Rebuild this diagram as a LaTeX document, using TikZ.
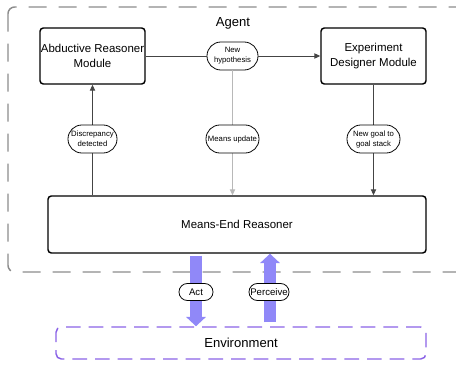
\documentclass[tikz,border=0pt]{standalone}
\usepackage{fontspec}
\setmainfont{Liberation Sans}
\usetikzlibrary{arrows.meta}

\definecolor{framegray}{HTML}{8C8C8C}
\definecolor{linegray}{HTML}{444444}
\definecolor{updgray}{HTML}{B8B8B8}
\definecolor{fatfill}{HTML}{9088F8}
\definecolor{fatedge}{HTML}{7A6CF0}
\definecolor{envpurple}{HTML}{8A62E6}

\begin{document}
\begin{tikzpicture}[x=0.75pt,y=-0.75pt,
    module/.style={draw=black,line width=1.1pt,rounded corners=2.5pt,align=center,
        font=\fontsize{8.6}{11}\selectfont,inner sep=0pt},
    pill/.style={draw=black,line width=0.6pt,rounded corners=10.4pt,fill=white,align=center,
        font=\fontsize{5.8}{7.5}\selectfont,inner sep=0pt,minimum height=21pt},
    iopill/.style={draw=black,line width=0.6pt,rounded corners=6.3pt,fill=white,
        font=\fontsize{7.2}{8}\selectfont,inner sep=0pt,minimum height=12.75pt},
    link/.style={draw=linegray,line width=0.75pt,-{Triangle[length=4.5pt,width=4pt]}},
    plain/.style={draw=linegray,line width=0.75pt},
    fatarrow/.style={draw=fatedge,line width=9pt,fatfill,
        -{Triangle[length=7pt,width=14.5pt]}},
]
    \useasboundingbox (0,0) rectangle (456,364);
    \clip (0,0) rectangle (456,364);

    % agent frame
    \draw[framegray,line width=1.1pt,rounded corners=5pt,dash pattern=on 13.5pt off 9pt]
        (8,7) rectangle (475,272);
    \node (agent) at (233,23) {\fontsize{9.8}{11}\selectfont Agent};

    % modules
    \node[module,minimum width=78.75pt,minimum height=42pt] (abd) at (92.5,56)
        {Abductive Reasoner\\Module};
    \node[module,minimum width=78.75pt,minimum height=42pt] (exp) at (373.5,56)
        {Experiment\\Designer Module};
    \node[module,minimum width=283.5pt,minimum height=42.75pt] (mer) at (237,224.5)
        {Means-End Reasoner};

    % environment
    \node[draw=envpurple,line width=1.1pt,rounded corners=4pt,dash pattern=on 11pt off 6pt,
        minimum width=277.5pt,minimum height=24pt,font=\fontsize{9.8}{11}\selectfont]
        (env) at (241,343) {Environment};

    % hypothesis
    \node[pill,minimum width=38.25pt] (hyp) at (232.5,56) {New\\hypothesis};
    \draw[plain] (abd) -- (hyp);
    \draw[link] (hyp) -- (exp);

    % feedback lines
    \draw[link] (mer.north -| abd) -- (abd);
    \draw[link,draw=updgray] (hyp) -- (mer.north -| hyp);
    \draw[link] (exp) -- (mer.north -| exp);
    \node[pill,minimum width=36.75pt] (disc) at (92.5,139) {Discrepancy\\detected};
    \node[pill,minimum width=39.75pt] (upd) at (232.5,139) {Means update};
    \node[pill,minimum width=39.75pt] (goal) at (373.5,139) {New goal to\\goal stack};

    % act / perceive
    \coordinate (actx) at (196,0);
    \coordinate (perx) at (270,0);
    \draw[fatarrow] ([yshift=-1.5pt]mer.south -| actx) -- (env.north -| actx);
    \draw[fatarrow] ([yshift=3pt]env.north -| perx) -- (mer.south -| perx);
    \node[iopill,minimum width=25.5pt] (act) at (196,292) {Act};
    \node[iopill,minimum width=30pt] (per) at (269,292) {Perceive};
\end{tikzpicture}
\end{document}
